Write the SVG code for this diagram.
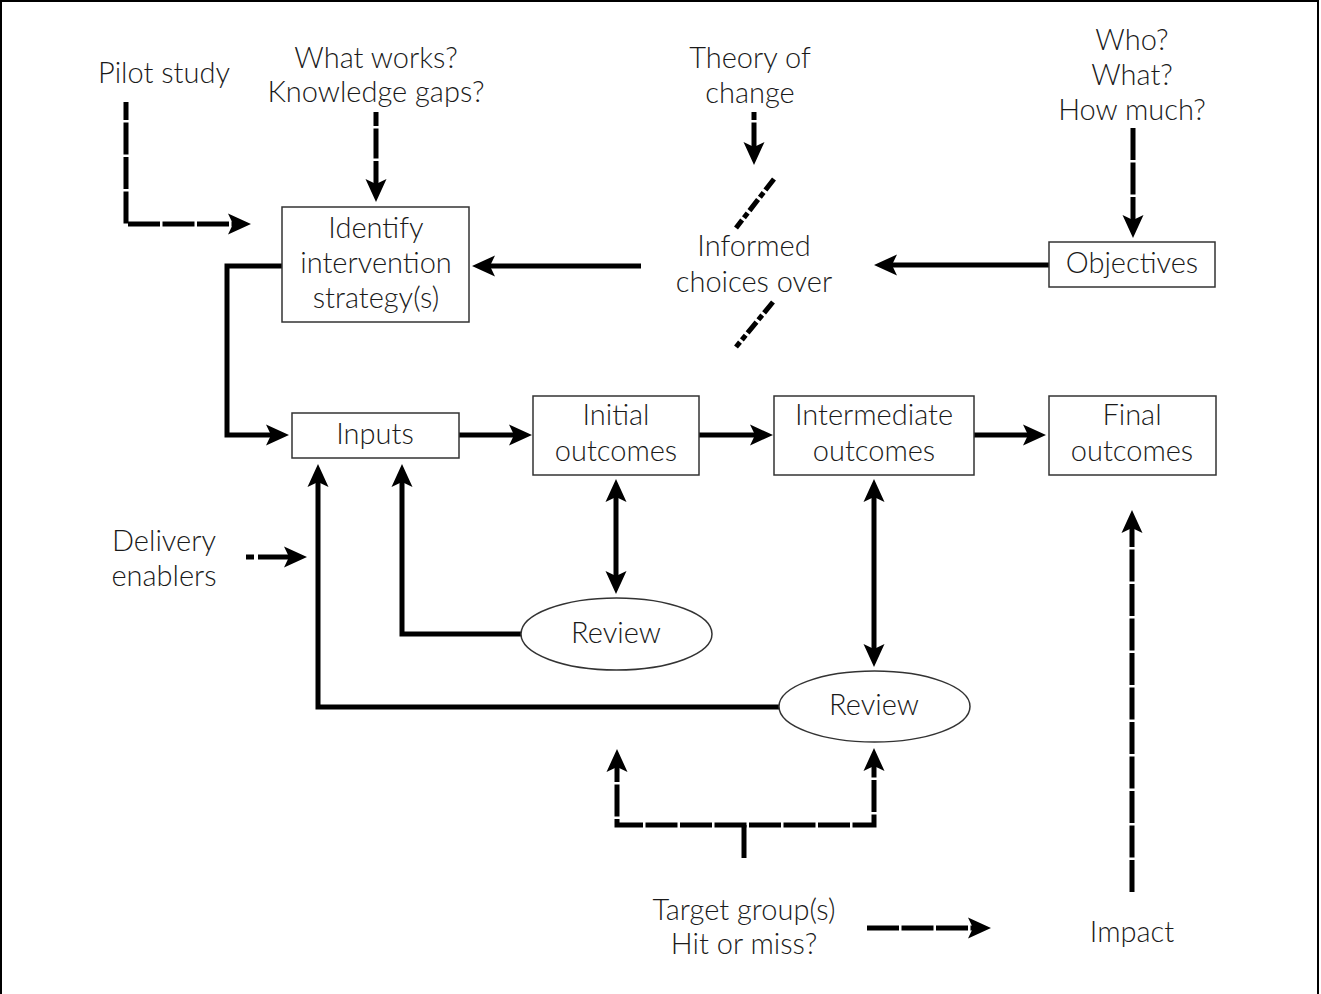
<svg xmlns="http://www.w3.org/2000/svg" width="1321" height="994" viewBox="0 0 1321 994">
<style>
text{font-family:Lato,"Open Sans",sans-serif;font-size:29px;font-weight:300;fill:#1a1a1a;text-anchor:middle}
.box{fill:#fff;stroke:#333;stroke-width:1.5}
.c{fill:none;stroke:#000;stroke-width:5}
.d{stroke-dasharray:32 2.5}
.s{fill:none;stroke:#000;stroke-width:5;stroke-dasharray:14 3 6 3}
</style>
<defs>
<marker id="ah" markerUnits="userSpaceOnUse" markerWidth="24" markerHeight="22" viewBox="0 0 24 22" refX="12" refY="11" orient="auto">
<path d="M0,0.5 L23,11 L0,21.5 L5,11 z" fill="#000"/>
</marker>
<marker id="as" markerUnits="userSpaceOnUse" markerWidth="24" markerHeight="22" viewBox="0 0 24 22" refX="12" refY="11" orient="auto-start-reverse">
<path d="M0,0.5 L23,11 L0,21.5 L5,11 z" fill="#000"/>
</marker>
</defs>
<rect x="1" y="1" width="1317" height="1000" fill="#fff" stroke="#000" stroke-width="2"/>

<g id="connectors">
<path class="c d" d="M126,102 V224 H240" stroke-dashoffset="14" marker-end="url(#ah)"/>
<path class="c" d="M376,112 V191" stroke-dasharray="14 2.5 30 2.5 200" marker-end="url(#ah)"/>
<path class="c" d="M754,112 V154" stroke-dasharray="8 2.5 200" marker-end="url(#ah)"/>
<path class="c d" d="M1133,128 V227" marker-end="url(#ah)"/>
<path class="c" d="M641,266 H483" marker-end="url(#ah)"/>
<path class="c" d="M1049,265 H885" marker-end="url(#ah)"/>
<path class="c" d="M282,266 H227 V435 H278" marker-end="url(#ah)"/>
<path class="c" d="M459,435 H521" marker-end="url(#ah)"/>
<path class="c" d="M699,435 H762" marker-end="url(#ah)"/>
<path class="c" d="M974,435 H1035" marker-end="url(#ah)"/>
<path class="c" d="M616,490 V583" marker-start="url(#as)" marker-end="url(#ah)"/>
<path class="c" d="M874,490 V656" marker-start="url(#as)" marker-end="url(#ah)"/>
<path class="c" d="M521,634 H402 V475" marker-end="url(#ah)"/>
<path class="c" d="M779,707 H318 V475" marker-end="url(#ah)"/>
<path class="c" d="M246,557 H296" stroke-dasharray="8 4 200" marker-end="url(#ah)"/>
<path class="c d" d="M617,760 V825 H874 V759" stroke-dashoffset="10" marker-start="url(#as)" marker-end="url(#ah)"/>
<path class="c" d="M744,825 V858"/>
<path class="c d" d="M867,928 H980" marker-end="url(#ah)"/>
<path class="c d" d="M1132,892 V521" marker-end="url(#ah)"/>
<path class="s" d="M774,179 L736,228"/>
<path class="s" d="M773,302 L736,347"/>
</g>

<g id="pilot"><text x="164" y="83">Pilot study</text></g>
<g id="whatworks"><text x="376" y="68">What works?</text><text x="376" y="102">Knowledge gaps?</text></g>
<g id="theory"><text x="750" y="68">Theory of</text><text x="750" y="103">change</text></g>
<g id="who"><text x="1132" y="50">Who?</text><text x="1132" y="85">What?</text><text x="1132" y="120">How much?</text></g>
<g id="identify"><rect class="box" x="282" y="207" width="187" height="115"/><text x="376" y="238">Identify</text><text x="376" y="273">intervention</text><text x="376" y="308">strategy(s)</text></g>
<g id="informed"><text x="754" y="256">Informed</text><text x="754" y="292">choices over</text></g>
<g id="objectives"><rect class="box" x="1049" y="242" width="166" height="45"/><text x="1132" y="273">Objectives</text></g>
<g id="inputs"><rect class="box" x="292" y="413" width="167" height="45"/><text x="375" y="444">Inputs</text></g>
<g id="initial"><rect class="box" x="533" y="396" width="166" height="79"/><text x="616" y="425">Initial</text><text x="616" y="461">outcomes</text></g>
<g id="intermediate"><rect class="box" x="774" y="396" width="200" height="79"/><text x="874" y="425">Intermediate</text><text x="874" y="461">outcomes</text></g>
<g id="final"><rect class="box" x="1049" y="396" width="167" height="79"/><text x="1132" y="425">Final</text><text x="1132" y="461">outcomes</text></g>
<g id="delivery"><text x="164" y="551">Delivery</text><text x="164" y="586">enablers</text></g>
<g id="review1"><ellipse class="box" cx="616.5" cy="634" rx="95.5" ry="36"/><text x="616" y="643">Review</text></g>
<g id="review2"><ellipse class="box" cx="874.5" cy="706.5" rx="95.5" ry="35.5"/><text x="874" y="715">Review</text></g>
<g id="target"><text x="744" y="920">Target group(s)</text><text x="744" y="954">Hit or miss?</text></g>
<g id="impact"><text x="1132" y="942">Impact</text></g>
</svg>
